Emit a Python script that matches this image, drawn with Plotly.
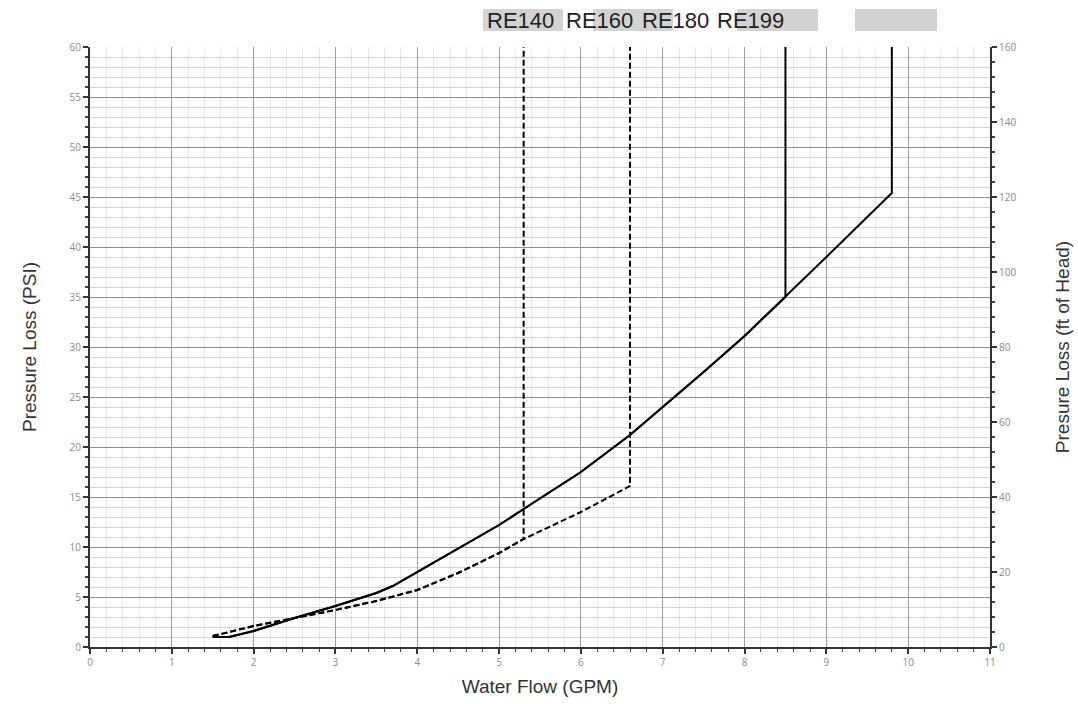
import plotly.graph_objects as go

# Data
solid_flow = [1.5, 1.7, 2.0, 2.5, 3.0, 3.5, 3.7, 4.0, 4.5, 5.0, 5.3, 6.0, 6.6, 7.0, 7.5, 8.0, 8.5, 9.0, 9.5, 9.8]
solid_psi = [1.0, 1.0, 1.6, 2.9, 4.1, 5.4, 6.1, 7.5, 9.8, 12.2, 13.8, 17.5, 21.2, 24.0, 27.5, 31.1, 35.0, 39.0, 43.0, 45.4]
dash_flow = [1.5, 2.0, 2.5, 3.0, 3.5, 4.0, 4.5, 5.0, 5.3, 6.0, 6.6]
dash_psi = [1.1, 2.1, 2.9, 3.7, 4.6, 5.7, 7.4, 9.4, 10.8, 13.5, 16.1]

models = ["RE140", "RE160", "RE180", "RE199"]
max_flow = [5.3, 6.6, 8.5, 9.8]
curve_kind = ["dash", "dash", "solid", "solid"]
top_psi = 60

fig = go.Figure()

for name, mf, kind in zip(models, max_flow, curve_kind):
    fx = dash_flow if kind == "dash" else solid_flow
    fy = dash_psi if kind == "dash" else solid_psi
    xs = [x for x in fx if x <= mf]
    ys = [y for x, y in zip(fx, fy) if x <= mf]
    xs = xs + [mf]
    ys = ys + [top_psi]
    fig.add_trace(go.Scatter(
        x=xs, y=ys, mode="lines", name=name, showlegend=False,
        line=dict(color="black", width=2, dash="6px,3px" if kind == "dash" else "solid"),
    ))

# dummy trace for secondary axis
fig.add_trace(go.Scatter(x=[0], y=[0], yaxis="y2", mode="markers",
                         marker=dict(opacity=0), showlegend=False, hoverinfo="skip"))

tick_font = dict(family="Open Sans, DejaVu Sans, sans-serif", size=10, color="#8a8a8a")
title_font = dict(family="Liberation Sans, Arial, sans-serif", size=19, color="#333333")

fig.update_layout(
    width=1078, height=704,
    margin=dict(l=90, r=88, t=47, b=57, autoexpand=False),
    paper_bgcolor="white", plot_bgcolor="white",
    xaxis=dict(
        range=[0, 11], dtick=1, tick0=0, automargin=False,
        showgrid=True, gridcolor="#a0a0a0", gridwidth=1,
        showline=True, linecolor="#333333", linewidth=2,
        ticks="outside", ticklen=5, tickcolor="#333333", tickwidth=2,
        tickfont=tick_font, zeroline=False,
        minor=dict(dtick=0.2, showgrid=True, gridcolor="#e6e6e6", ticks="outside",
                   ticklen=3, tickcolor="#444444", tickwidth=1),
        title=dict(text="Water Flow (GPM)", font=title_font, standoff=12),
    ),
    yaxis=dict(
        range=[0, 60], dtick=5, tick0=0, automargin=False,
        showgrid=True, gridcolor="#909090", gridwidth=1,
        showline=True, linecolor="#333333", linewidth=2,
        ticks="outside", ticklen=5, tickcolor="#333333", tickwidth=2,
        tickfont=tick_font, zeroline=False,
        minor=dict(dtick=1, showgrid=True, gridcolor="#d4d4d4", ticks="outside",
                   ticklen=3, tickcolor="#444444", tickwidth=2),
        title=dict(text="Pressure Loss (PSI)", font=title_font, standoff=28),
    ),
    yaxis2=dict(
        range=[0, 160], dtick=20, tick0=0, overlaying="y", side="right", automargin=False,
        showgrid=False,
        showline=True, linecolor="#333333", linewidth=2,
        ticks="outside", ticklen=5, tickcolor="#333333", tickwidth=2,
        tickfont=tick_font, zeroline=False,
        minor=dict(dtick=4, ticks="outside", ticklen=3, tickcolor="#444444", tickwidth=2),
        title=dict(text="Presure Loss (ft of Head)", font=title_font, standoff=40),
    ),
)

# Legend-like header with grey highlight boxes
for x0, x1 in [(483, 563), (593, 673), (737, 818), (855, 937)]:
    fig.add_shape(type="rect", xref="paper", yref="paper",
                  x0=(x0 - 90) / 900, x1=(x1 - 90) / 900,
                  y0=(647 - 31) / 600, y1=(647 - 9) / 600,
                  fillcolor="#d3d3d3", line=dict(width=0), layer="below")
for name, left_px in zip(models, [488, 567, 643, 718]):
    fig.add_annotation(text=name, xref="paper", yref="paper",
                       x=(left_px - 90) / 900, y=(647 - 20) / 600,
                       xanchor="left", yanchor="middle", showarrow=False,
                       xshift=-3,
                       font=dict(family="Liberation Sans, Arial, sans-serif", size=22, color="#222222"))

fig.write_html("out.html")
